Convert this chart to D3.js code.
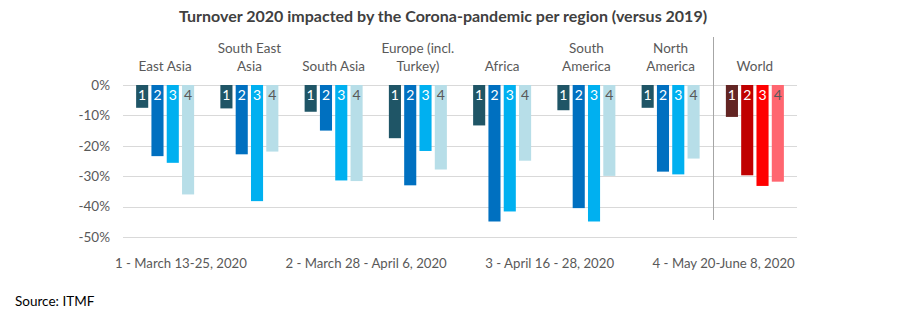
<!DOCTYPE html>
<html>
<head>
<meta charset="utf-8">
<script src="https://cdn.jsdelivr.net/npm/d3@7"></script>
<style>
  body { margin: 0; background: #fff; }
  svg text { font-family: Lato, "Open Sans", sans-serif; }
</style>
</head>
<body>
<div id="chart"></div>
<script>
// regions (category labels, split in lines)
var regions = ["East Asia", "South East Asia", "South Asia", "Europe (incl. Turkey)", "Africa", "South America", "North America", "World"];
var regionLines = [["East Asia"], ["South East", "Asia"], ["South Asia"], ["Europe (incl.", "Turkey)"], ["Africa"], ["South", "America"], ["North", "America"], ["World"]];
var surveys = ["1", "2", "3", "4"];
var surveyLabels = ["1 - March 13-25, 2020", "2 - March 28 - April 6, 2020", "3 - April 16 - 28, 2020", "4 - May 20-June 8, 2020"];

// change in turnover per survey, in %
var survey1 = [-7.5, -7.7, -8.8, -17.5, -13.3, -8.3, -7.5, -10.5];
var survey2 = [-23.4, -22.8, -15.0, -33.0, -44.9, -40.5, -28.5, -29.7];
var survey3 = [-25.6, -38.2, -31.4, -21.7, -41.6, -44.9, -29.4, -33.2];
var survey4 = [-36.0, -21.9, -31.6, -27.8, -24.9, -29.9, -24.2, -31.8];

var yTicks = [0, -10, -20, -30, -40, -50];

var blues = ["#1f5566", "#0070c0", "#00b0f0", "#b7dee8"];
var reds = ["#632523", "#c00000", "#ff0000", "#ff6670"];

var width = 900, height = 327;

var svg = d3.select("#chart").append("svg")
  .attr("width", width)
  .attr("height", height);

var x = d3.scaleBand().domain(regions).range([123, 797]).padding(0);
var y = d3.scaleLinear().domain([-50, 0]).range([237, 85]);

// gridlines
svg.append("g")
  .selectAll("line")
  .data(yTicks)
  .enter().append("line")
    .attr("x1", 123)
    .attr("x2", 797)
    .attr("y1", function(d) { return Math.round(y(d)) + 0.5; })
    .attr("y2", function(d) { return Math.round(y(d)) + 0.5; })
    .attr("stroke", "#d9d9d9")
    .attr("stroke-width", 1);

// y axis labels
svg.append("g")
  .selectAll("text")
  .data(yTicks)
  .enter().append("text")
    .attr("x", 110)
    .attr("y", function(d) { return y(d); })
    .attr("dy", "0.35em")
    .attr("text-anchor", "end")
    .style("font-size", "13.5px")
    .style("fill", "#595959")
    .text(function(d) { return d + "%"; });

// separator before World
var sepX = Math.round(x("World")) + 0.5;
svg.append("line")
  .attr("x1", sepX).attr("x2", sepX)
  .attr("y1", 37).attr("y2", 220)
  .attr("stroke", "#a6a6a6")
  .attr("stroke-width", 1);

var series = [survey1, survey2, survey3, survey4];
var rows = regions.map(function(r, i) {
  return { region: r, values: series.map(function(s, j) { return { survey: surveys[j], value: s[i], region: r }; }) };
});

var inner = d3.scaleBand().domain(surveys).range([-29, 29]).paddingInner(0.21);

var groups = svg.selectAll(".grp")
  .data(rows)
  .enter().append("g")
    .attr("class", "grp")
    .attr("transform", function(d) { return "translate(" + (x(d.region) + x.bandwidth() / 2) + ",0)"; });

groups.selectAll("rect")
  .data(function(d) { return d.values; })
  .enter().append("rect")
    .attr("x", function(d) { return inner(d.survey); })
    .attr("width", inner.bandwidth())
    .attr("y", y(0))
    .attr("height", function(d) { return y(d.value) - y(0); })
    .style("fill", function(d) {
      return d.region == "World" ? reds[+d.survey - 1] : blues[+d.survey - 1];
    });

groups.selectAll(".num")
  .data(function(d) { return d.values; })
  .enter().append("text")
    .attr("class", "num")
    .attr("x", function(d) { return inner(d.survey) + inner.bandwidth() / 2; })
    .attr("y", y(0) + 15)
    .attr("text-anchor", "middle")
    .style("font-size", "14px")
    .style("fill", function(d) { return d.survey == "4" ? "#595959" : "#ffffff"; })
    .text(function(d) { return d.survey; });

// category labels
groups.each(function(d, i) {
  var lines = regionLines[i];
  var g = d3.select(this);
  lines.forEach(function(l, k) {
    g.append("text")
      .attr("x", 0)
      .attr("y", 71 - (lines.length - 1 - k) * 18)
      .attr("text-anchor", "middle")
      .style("font-size", "13.5px")
      .style("fill", "#595959")
      .text(l);
  });
});

// title
svg.append("text")
  .attr("x", 443)
  .attr("y", 22)
  .attr("text-anchor", "middle")
  .style("font-size", "16px")
  .style("font-weight", "bold")
  .style("fill", "#404040")
  .text("Turnover 2020 impacted by the Corona-pandemic per region (versus 2019)");

// legend as text flow
var lx = 115;
surveyLabels.forEach(function(t) {
  var node = svg.append("text")
    .attr("x", lx)
    .attr("y", 268)
    .style("font-size", "13.2px")
    .style("fill", "#595959")
    .text(t);
  lx += node.node().getComputedTextLength() + 38.5;
});

// source
svg.append("text")
  .attr("x", 15)
  .attr("y", 306)
  .style("font-size", "13.5px")
  .style("fill", "#000")
  .text("Source: ITMF");
</script>
</body>
</html>
